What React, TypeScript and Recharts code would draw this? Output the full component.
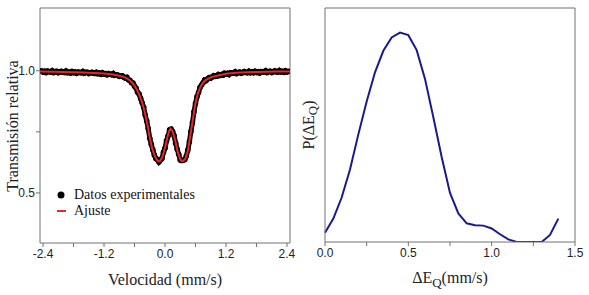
import React from 'react';
import { ComposedChart, LineChart, Line, Scatter, XAxis, YAxis, Legend } from 'recharts';

// ---- Left panel: Mössbauer spectrum ----
const velocity = [
  -2.43, -2.4, -2.37, -2.34, -2.31, -2.28, -2.25, -2.22, -2.19, -2.16, -2.13, -2.1, -2.07, -2.04, -2.01,
  -1.98, -1.95, -1.92, -1.89, -1.86, -1.83, -1.8, -1.77, -1.74, -1.71, -1.68, -1.65, -1.62, -1.59, -1.56,
  -1.53, -1.5, -1.47, -1.44, -1.41, -1.38, -1.35, -1.32, -1.29, -1.26, -1.23, -1.2, -1.17, -1.14, -1.11,
  -1.08, -1.05, -1.02, -0.99, -0.96, -0.93, -0.9, -0.87, -0.84, -0.81, -0.78, -0.75, -0.72, -0.69, -0.66,
  -0.63, -0.6, -0.57, -0.54, -0.51, -0.48, -0.45, -0.42, -0.39, -0.36, -0.33, -0.3, -0.27, -0.24, -0.21,
  -0.18, -0.15, -0.12, -0.09, -0.06, -0.03, 0.0, 0.03, 0.06, 0.09, 0.12, 0.15, 0.18, 0.21, 0.24,
  0.27, 0.3, 0.33, 0.36, 0.39, 0.42, 0.45, 0.48, 0.51, 0.54, 0.57, 0.6, 0.63, 0.66, 0.69,
  0.72, 0.75, 0.78, 0.81, 0.84, 0.87, 0.9, 0.93, 0.96, 0.99, 1.02, 1.05, 1.08, 1.11, 1.14,
  1.17, 1.2, 1.23, 1.26, 1.29, 1.32, 1.35, 1.38, 1.41, 1.44, 1.47, 1.5, 1.53, 1.56, 1.59,
  1.62, 1.65, 1.68, 1.71, 1.74, 1.77, 1.8, 1.83, 1.86, 1.89, 1.92, 1.95, 1.98, 2.01, 2.04,
  2.07, 2.1, 2.13, 2.16, 2.19, 2.22, 2.25, 2.28, 2.31, 2.34, 2.37, 2.4, 2.43,
];
const transmission = [
  1.0, 0.995, 0.998, 0.993, 0.999, 0.996, 0.995, 1.0, 0.993, 0.997, 0.998, 0.992, 0.995, 0.998, 0.994,
  0.993, 0.999, 0.992, 0.995, 0.991, 0.997, 0.992, 0.995, 0.99, 0.995, 0.993, 0.992, 0.997, 0.99, 0.994,
  0.994, 0.989, 0.992, 0.994, 0.99, 0.989, 0.994, 0.988, 0.991, 0.986, 0.992, 0.987, 0.989, 0.984, 0.989,
  0.986, 0.984, 0.989, 0.981, 0.983, 0.983, 0.977, 0.978, 0.979, 0.974, 0.97, 0.973, 0.963, 0.961, 0.951,
  0.95, 0.937, 0.929, 0.912, 0.905, 0.887, 0.869, 0.851, 0.819, 0.794, 0.763, 0.724, 0.699, 0.677, 0.655,
  0.641, 0.637, 0.627, 0.635, 0.641, 0.666, 0.683, 0.713, 0.733, 0.758, 0.761, 0.751, 0.734, 0.703, 0.679,
  0.658, 0.635, 0.633, 0.634, 0.637, 0.651, 0.676, 0.709, 0.751, 0.787, 0.832, 0.866, 0.894, 0.911, 0.932,
  0.942, 0.951, 0.962, 0.96, 0.967, 0.972, 0.97, 0.975, 0.98, 0.977, 0.978, 0.985, 0.981, 0.985, 0.982,
  0.99, 0.986, 0.99, 0.985, 0.992, 0.99, 0.99, 0.996, 0.989, 0.993, 0.995, 0.99, 0.993, 0.997, 0.993,
  0.992, 0.998, 0.992, 0.996, 0.992, 0.998, 0.993, 0.996, 0.991, 0.997, 0.996, 0.995, 1.0, 0.993, 0.997,
  0.998, 0.993, 0.996, 1.0, 0.996, 0.995, 1.001, 0.995, 0.998, 0.994, 1.0, 0.995, 0.998,
];
const fitVelocity = [
  -2.46, -2.2, -2.0, -1.8, -1.6, -1.4, -1.2, -1.1, -1.0, -0.9, -0.8, -0.75, -0.7, -0.65, -0.6, -0.55,
  -0.5, -0.45, -0.4, -0.35, -0.3, -0.25, -0.2, -0.15, -0.12, -0.1, -0.05, 0.0, 0.05, 0.08, 0.11, 0.15, 0.2,
  0.25, 0.3, 0.33, 0.36, 0.4, 0.45, 0.5, 0.55, 0.6, 0.65, 0.7, 0.75, 0.8, 0.9, 1.0, 1.2, 1.4, 1.6, 1.8, 2.0,
  2.2, 2.46,
];
const fitTransmission = [
  0.997, 0.996, 0.995, 0.994, 0.993, 0.991, 0.989, 0.987, 0.984, 0.98, 0.974, 0.969, 0.962, 0.952, 0.939, 0.921,
  0.898, 0.87, 0.832, 0.783, 0.727, 0.68, 0.65, 0.633, 0.629, 0.63, 0.648, 0.685, 0.73, 0.752, 0.763, 0.752, 0.716,
  0.668, 0.638, 0.63, 0.631, 0.64, 0.672, 0.737, 0.803, 0.868, 0.91, 0.935, 0.952, 0.962, 0.973, 0.979, 0.988, 0.992, 0.994, 0.995, 0.996,
  0.997, 0.997,
];
const velTicks = [-2.4, -1.8, -1.2, -0.6, 0, 0.6, 1.2, 1.8, 2.4];
const velTickLabels = ['-2.4', '', '-1.2', '', '0.0', '', '1.2', '', '2.4'];
const transTicks = [0.5, 0.75, 1.0];
const transTickLabels = ['0.5', '', '1.0'];

// ---- Right panel: quadrupole splitting distribution ----
const dEq = [
  0, 0.05, 0.1, 0.15, 0.2, 0.25, 0.3, 0.35, 0.4, 0.45, 0.5, 0.55, 0.6, 0.65, 0.7,
  0.75, 0.8, 0.85, 0.9, 0.95, 1.0, 1.05, 1.1, 1.15, 1.2, 1.25, 1.3, 1.35, 1.4,
];
const pDEq = [
  0.04, 0.1, 0.19, 0.31, 0.46, 0.6, 0.725, 0.817, 0.874, 0.895, 0.884, 0.82, 0.697, 0.533, 0.363,
  0.21, 0.122, 0.08, 0.072, 0.07, 0.058, 0.033, 0.011, 0, 0, 0, 0, 0.03, 0.1,
];
const eqTicks = [0, 0.25, 0.5, 0.75, 1.0, 1.25, 1.5];
const eqTickLabels = ['0.0', '', '0.5', '', '1.0', '', '1.5'];

const expData = velocity.map((v, i) => ({ v, t: transmission[i] }));
const fitData = fitVelocity.map((v, i) => ({ v, t: fitTransmission[i] }));
const eqData = dEq.map((q, i) => ({ q, p: pDEq[i] }));

const SERIF = 'Liberation Serif, serif';
const SANS = 'Liberation Sans, Arial, sans-serif';
const FRAME = '#707070';
const tickStyle = { fontFamily: SANS, fontSize: 12, fill: '#222' };

const Dot = (props: any) => <circle cx={props.cx} cy={props.cy} r={2.8} fill="#000" />;
const NoDot = () => null;

const LegendContent = () => (
  <div style={{ fontFamily: SERIF, fontSize: 14, color: '#111', lineHeight: '16px' }}>
    <div style={{ display: 'flex', alignItems: 'center', height: 16 }}>
      <svg width={18} height={16}>
        <circle cx={9} cy={8} r={3.5} fill="#000" />
      </svg>
      <span style={{ marginLeft: 4 }}>Datos experimentales</span>
    </div>
    <div style={{ display: 'flex', alignItems: 'center', height: 16 }}>
      <svg width={18} height={16}>
        <line x1={5} y1={8} x2={14} y2={8} stroke="#e8262b" strokeWidth={2} />
      </svg>
      <span style={{ marginLeft: 4 }}>Ajuste</span>
    </div>
  </div>
);

export default function App() {
  return (
    <div style={{ position: 'absolute', left: 0, top: 0, width: 589, height: 295, background: '#fff' }}>
      <div style={{ position: 'absolute', left: 0, top: 0 }}>
        <ComposedChart width={300} height={295} margin={{ top: 8, right: 10, bottom: 22, left: 0 }}>
          <XAxis
            dataKey="v"
            type="number"
            domain={[-2.46, 2.46]}
            allowDataOverflow
            ticks={velTicks}
            interval={0}
            tickFormatter={(v: number) => velTickLabels[velTicks.indexOf(v)] ?? ''}
            tick={tickStyle}
            tickSize={4}
            tickMargin={2}
            height={30}
            stroke={FRAME}
            label={{
              content: (p: any) => (
                <text
                  x={p.viewBox.x + p.viewBox.width / 2}
                  y={285}
                  textAnchor="middle"
                  fontFamily={SERIF}
                  fontSize={16}
                  fill="#222"
                >
                  Velocidad (mm/s)
                </text>
              ),
            }}
          />
          <XAxis
            xAxisId="top"
            orientation="top"
            mirror
            type="number"
            domain={[-2.46, 2.46]}
            tick={false}
            tickLine={false}
            height={20}
            stroke={FRAME}
          />
          <YAxis
            dataKey="t"
            type="number"
            domain={[0.295, 1.257]}
            allowDataOverflow
            ticks={transTicks}
            interval={0}
            tickFormatter={(v: number) => transTickLabels[transTicks.indexOf(v)] ?? ''}
            tick={tickStyle}
            tickSize={4}
            tickMargin={1}
            width={40}
            stroke={FRAME}
            label={{
              content: () => (
                <text
                  x={12}
                  y={126}
                  transform="rotate(-90 12 126)"
                  textAnchor="middle"
                  dominantBaseline="central"
                  fontFamily={SERIF}
                  fontSize={16}
                  fill="#222"
                >
                  Transmisión relativa
                </text>
              ),
            }}
          />
          <YAxis
            yAxisId="right"
            orientation="right"
            mirror
            type="number"
            domain={[0.295, 1.257]}
            ticks={transTicks}
            interval={0}
            tick={false}
            tickSize={3}
            width={20}
            stroke={FRAME}
          />
          <Scatter
            data={expData}
            dataKey="t"
            shape={Dot}
            line={{ stroke: '#000', strokeWidth: 5 }}
            lineType="joint"
            isAnimationActive={false}
          />
          <Scatter
            data={fitData}
            dataKey="t"
            shape={NoDot}
            line={{ stroke: '#e8262b', strokeWidth: 2 }}
            lineType="joint"
            isAnimationActive={false}
          />
          <Legend
            layout="horizontal"
            verticalAlign="middle"
            align="center"
            wrapperStyle={{ left: 52, top: 187, width: 170, height: 32 }}
            content={LegendContent}
          />
        </ComposedChart>
      </div>
      <div style={{ position: 'absolute', left: 295, top: 0 }}>
        <LineChart width={294} height={295} data={eqData} margin={{ top: 8, right: 14, bottom: 23, left: 0 }}>
          <XAxis
            dataKey="q"
            type="number"
            domain={[0, 1.5]}
            ticks={eqTicks}
            interval={0}
            tickFormatter={(v: number) => eqTickLabels[eqTicks.indexOf(v)] ?? ''}
            tick={tickStyle}
            tickSize={4}
            tickMargin={2}
            height={30}
            stroke={FRAME}
            label={{
              content: (p: any) => (
                <text
                  x={p.viewBox.x + p.viewBox.width / 2}
                  y={283}
                  textAnchor="middle"
                  fontFamily={SERIF}
                  fontSize={16}
                  fill="#222"
                >
                  ΔE<tspan dy={4} fontSize={13}>Q</tspan>
                  <tspan dy={-4}>(mm/s)</tspan>
                </text>
              ),
            }}
          />
          <XAxis
            xAxisId="top"
            orientation="top"
            mirror
            type="number"
            domain={[0, 1.5]}
            ticks={eqTicks}
            interval={0}
            tick={false}
            tickSize={3}
            height={20}
            stroke={FRAME}
          />
          <YAxis
            dataKey="p"
            type="number"
            domain={[0, 1]}
            allowDataOverflow
            tick={false}
            tickLine={false}
            width={30}
            stroke={FRAME}
            label={{
              content: () => (
                <text
                  x={13}
                  y={125}
                  transform="rotate(-90 13 125)"
                  textAnchor="middle"
                  dominantBaseline="central"
                  fontFamily={SERIF}
                  fontSize={16}
                  fill="#222"
                >
                  P(ΔE<tspan dy={4} fontSize={13}>Q</tspan>
                  <tspan dy={-4}>)</tspan>
                </text>
              ),
            }}
          />
          <YAxis yAxisId="right" orientation="right" mirror type="number" domain={[0, 1]} tick={false} tickLine={false} width={20} stroke={FRAME} />
          <Line dataKey="p" type="linear" stroke="#1a1a8e" strokeWidth={2} dot={false} isAnimationActive={false} />
        </LineChart>
      </div>
    </div>
  );
}
